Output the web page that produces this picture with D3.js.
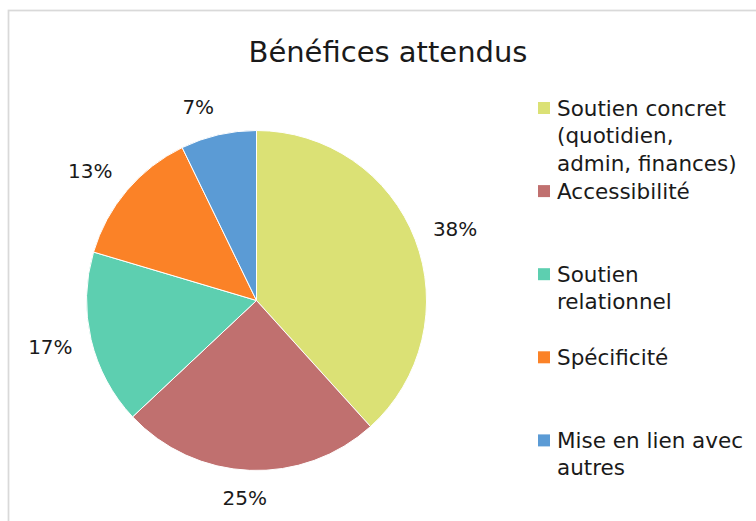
<!DOCTYPE html>
<html>
<head>
<meta charset="utf-8">
<script src="https://cdn.jsdelivr.net/npm/d3@7"></script>
<style>
  html, body { margin: 0; padding: 0; background: #fff; }
  svg { display: block; }
  text { font-family: "DejaVu Sans", sans-serif; fill: #1a1a1a; }
</style>
</head>
<body>
<svg id="chart" width="756" height="521"></svg>
<script>
const title = "Bénéfices attendus";
const categories = [
  "Soutien concret (quotidien, admin, finances)",
  "Accessibilité",
  "Soutien relationnel",
  "Spécificité",
  "Mise en lien avec autres"
];
const legendLines = [
  ["Soutien concret", "(quotidien,", "admin, finances)"],
  ["Accessibilité"],
  ["Soutien", "relationnel"],
  ["Spécificité"],
  ["Mise en lien avec", "autres"]
];
const values = [38.3, 24.7, 16.6, 13.2, 7.2];
const colors = ["#dbe175", "#c0706f", "#5dcfb0", "#fb8227", "#5b9bd5"];

const svg = d3.select("#chart");
const W = 756, H = 521;

// chart frame
svg.append("rect")
  .attr("x", 8.5).attr("y", 10.5)
  .attr("width", W + 20).attr("height", H + 20)
  .attr("fill", "#fff")
  .attr("stroke", "#d9d9d9").attr("stroke-width", 1.75);

// title
svg.append("text")
  .attr("x", 388).attr("y", 62)
  .attr("text-anchor", "middle")
  .style("font-size", "29px")
  .text(title);

const cx = 256.5, cy = 300.5, R = 170;
const color = d3.scaleOrdinal().domain(categories).range(colors);
const pie = d3.pie().sort(null).value(d => d.value).startAngle(0).endAngle(2 * Math.PI);
const data = categories.map((c, i) => ({ cat: c, value: values[i] }));
const arcs = pie(data);
const arc = d3.arc().innerRadius(0).outerRadius(R);

const g = svg.append("g").attr("transform", `translate(${cx},${cy})`);
g.selectAll("path.slice")
  .data(arcs)
  .join("path")
  .attr("class", "slice")
  .attr("d", arc)
  .attr("fill", d => color(d.data.cat))
  .attr("stroke", "#fff")
  .attr("stroke-width", 1);

// outside-end labels
const total = d3.sum(values);
const gapX = 19, gapY = 16;
const clamp = v => Math.max(-1, Math.min(1, v));
g.selectAll("text.lbl")
  .data(arcs)
  .join("text")
  .attr("class", "lbl")
  .style("font-size", "20px")
  .attr("text-anchor", "middle")
  .text(d => Math.round(d.data.value / total * 100) + "%")
  .each(function(d) {
    const bb = this.getBBox();
    const w = bb.width / 2, h = bb.height / 2;
    const a = (d.startAngle + d.endAngle) / 2;
    const s = Math.sin(a), c = -Math.cos(a);
    const ax = (R + gapX) * s, ay = (R + gapY) * c;
    const x = ax + clamp(4.5 * s) * w;
    const y = ay + clamp(1.2 * c) * h;
    const dy = y - (bb.y + bb.height / 2);
    d3.select(this).attr("x", x).attr("y", dy);
  });

// legend
const legX = 538, legY0 = 108, legStep = 83.1, lineH = 27.5, fs = 21.5;
const leg = svg.append("g");
const items = leg.selectAll("g.item")
  .data(categories)
  .join("g")
  .attr("class", "item")
  .attr("transform", (d, i) => `translate(${legX},${legY0 + i * legStep})`);
items.append("rect")
  .attr("x", 0).attr("y", -6)
  .attr("width", 12).attr("height", 12)
  .attr("fill", d => color(d));
items.append("text")
  .style("font-size", fs + "px")
  .each(function(d, i) {
    d3.select(this).selectAll("tspan")
      .data(legendLines[i])
      .join("tspan")
      .attr("x", 19)
      .attr("y", (t, j) => 7.5 + j * lineH)
      .text(t => t);
  });
</script>
</body>
</html>
